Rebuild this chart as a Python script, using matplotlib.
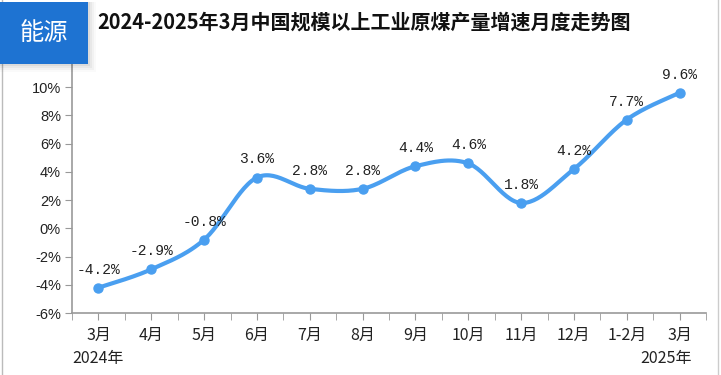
import matplotlib
matplotlib.use("Agg")
import matplotlib.pyplot as plt
import numpy as np
from matplotlib.patches import Rectangle
from matplotlib.ticker import FixedLocator

plt.rcParams['font.family'] = ['Noto Sans CJK SC', 'DejaVu Sans']

categories = ["3月", "4月", "5月", "6月", "7月", "8月", "9月", "10月", "11月", "12月", "1-2月", "3月"]
values = [-4.2, -2.9, -0.8, 3.6, 2.8, 2.8, 4.4, 4.6, 1.8, 4.2, 7.7, 9.6]
labels = ["-4.2%", "-2.9%", "-0.8%", "3.6%", "2.8%", "2.8%", "4.4%", "4.6%", "1.8%", "4.2%", "7.7%", "9.6%"]
yticks = [-6, -4, -2, 0, 2, 4, 6, 8, 10, 12]
year_labels = ["2024年", "2025年"]
title = "2024-2025年3月中国规模以上工业原煤产量增速月度走势图"
badge = "能源"

fig = plt.figure(figsize=(7.21, 3.75), dpi=100)
ax = fig.add_axes([0.0999, 0.165, 0.8793, 0.678])

x = np.arange(len(values), dtype=float)
y = np.array(values, dtype=float)

# smooth curve (Bezier, Excel-like smoothing)
def smooth(xs, ys, n=30):
    px, py = [], []
    N = len(xs)
    for i in range(N - 1):
        p0 = (xs[max(i - 1, 0)], ys[max(i - 1, 0)])
        p1 = (xs[i], ys[i])
        p2 = (xs[i + 1], ys[i + 1])
        p3 = (xs[min(i + 2, N - 1)], ys[min(i + 2, N - 1)])
        c1 = (p1[0] + (p2[0] - p0[0]) / 6, p1[1] + (p2[1] - p0[1]) / 6)
        c2 = (p2[0] - (p3[0] - p1[0]) / 6, p2[1] - (p3[1] - p1[1]) / 6)
        t = np.linspace(0, 1, n)
        bx = (1 - t) ** 3 * p1[0] + 3 * (1 - t) ** 2 * t * c1[0] + 3 * (1 - t) * t ** 2 * c2[0] + t ** 3 * p2[0]
        by = (1 - t) ** 3 * p1[1] + 3 * (1 - t) ** 2 * t * c1[1] + 3 * (1 - t) * t ** 2 * c2[1] + t ** 3 * p2[1]
        px.extend(bx)
        py.extend(by)
    return np.array(px), np.array(py)

sx, sy = smooth(x, y)
color = "#4a9ff0"
ax.plot(sx, sy, color=color, lw=3, solid_capstyle="round", zorder=3)
ax.plot(x, y, "o", color=color, ms=6.5, zorder=4)

for xi, yi, lab in zip(x, y, labels):
    ax.annotate(lab, (xi, yi), xytext=(0, 8), textcoords="offset points",
                ha="center", va="bottom", fontsize=10.5, family=["Liberation Mono", "DejaVu Sans"],
                color="#222222")

ax.set_xlim(-0.5, len(values) - 0.5)
ax.set_ylim(-6, 12)
ax.set_yticks(yticks)
ax.set_yticklabels([f"{v}%" for v in yticks], fontsize=10.5, family=["Liberation Sans", "DejaVu Sans"],
                   color="#222222")
ax.set_xticks(x)
ax.set_xticklabels(categories, fontsize=11.5, color="#222222")
ax.xaxis.set_minor_locator(FixedLocator(np.arange(-0.5, len(values), 1.0)))
ax.tick_params(axis="x", which="both", length=5, color="#999999", direction="out", pad=5)
ax.tick_params(axis="y", length=5, color="#999999", direction="out", pad=3)

for s in ["top", "right"]:
    ax.spines[s].set_visible(False)
for s in ["left", "bottom"]:
    ax.spines[s].set_color("#999999")
    ax.spines[s].set_linewidth(1.2)

# year labels
ax.text(0, -0.178, year_labels[0], transform=ax.get_xaxis_transform(), ha="center", va="center",
        fontsize=11.5, color="#222222")
ax.text(len(values) - 1.25, -0.178, year_labels[1], transform=ax.get_xaxis_transform(), ha="center",
        va="center", fontsize=11.5, color="#222222")

# title
fig.text(97 / 721, 1 - 22 / 375, title, ha="left", va="center", fontsize=14.4, fontweight="bold",
         color="#111111")

# frame lines
fig.add_artist(plt.Line2D([2 / 721, 2 / 721], [0, 1], transform=fig.transFigure, color="#bbbbbb", lw=1))
fig.add_artist(plt.Line2D([718 / 721, 718 / 721], [0, 1], transform=fig.transFigure, color="#cccccc", lw=1))

# badge with soft shadow
for k, a in enumerate([0.05, 0.04, 0.03, 0.02]):
    d = (k + 1) * 2
    fig.add_artist(Rectangle((0, 1 - (64 + d) / 375), (88 + d) / 721, (62 + d) / 375,
                             transform=fig.transFigure, facecolor="black", alpha=a, edgecolor="none", zorder=9))
fig.add_artist(Rectangle((0, 1 - 64 / 375), 88 / 721, 62 / 375, transform=fig.transFigure,
                         facecolor="#1e73d2", edgecolor="none", zorder=10))
fig.text(44 / 721, 1 - 33 / 375, badge, ha="center", va="center", fontsize=17.5, color="white", zorder=11)

fig.savefig("out.png", dpi=100)
